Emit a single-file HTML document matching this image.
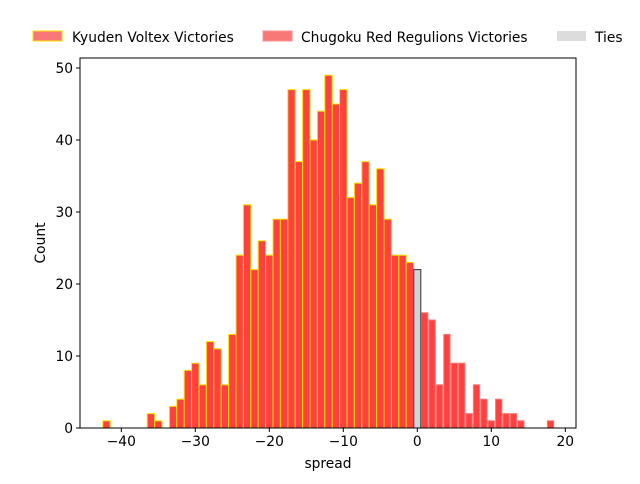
<!DOCTYPE html>
<html><head><meta charset="utf-8"><style>
body{margin:0;background:#fff;font-family:"DejaVu Sans",sans-serif}
svg text{font-family:"DejaVu Sans",sans-serif;font-size:13.8px;fill:#000}
</style></head><body>
<svg id="chart" width="640" height="480" xmlns="http://www.w3.org/2000/svg">
<rect width="640" height="480" fill="#fff"/>
<g id="bars"></g>
<g id="axes"></g>
<g id="legend">
<rect x="33" y="31" width="29" height="10" fill="#f87878" stroke="#ffe000" stroke-width="1"/>
<text x="72" y="42">Kyuden Voltex Victories</text>
<rect x="263" y="31" width="29" height="10" fill="#f87878" stroke="#f89090" stroke-width="1"/>
<text x="301" y="42">Chugoku Red Regulions Victories</text>
<rect x="557" y="31" width="29" height="10" fill="#dcdcdc"/>
<text x="595" y="42">Ties</text>
</g>
</svg>
<script>
const kyudenSpread=[-42,-36,-35,-33,-32,-31,-30,-29,-28,-27,-26,-25,-24,-23,-22,-21,-20,-19,-18,-17,-16,-15,-14,-13,-12,-11,-10,-9,-8,-7,-6,-5,-4,-3,-2,-1];
const kyudenCounts=[1,2,1,3,4,8,9,6,12,11,6,13,24,31,22,26,24,29,29,47,37,47,40,44,49,45,47,32,34,37,31,36,29,24,24,23];
const tiesSpread=[0];
const tiesCounts=[22];
const chugokuSpread=[1,2,3,4,5,6,7,8,9,10,11,12,13,14,18];
const chugokuCounts=[16,15,6,13,9,9,2,6,4,1,4,2,2,1,1];
const xTicks=[-40,-30,-20,-10,0,10,20];
const yTicks=[0,10,20,30,40,50];
const NS="http://www.w3.org/2000/svg";
const L=80,R=576,T=58,B=428;
const xs=v=>417.3+v*7.4;
const ys=v=>B-v*7.2;
const bars=document.getElementById('bars');
function drawSeries(xsArr,cs,fill,stroke,name,w){
  xsArr.forEach((s,i)=>{
    const r=document.createElementNS(NS,'rect');
    const x0=xs(s-0.5)+(1-w)*3.7;
    r.setAttribute('x',x0);r.setAttribute('width',7.4*w);
    r.setAttribute('y',ys(cs[i]));r.setAttribute('height',B-ys(cs[i]));
    r.setAttribute('fill',fill);r.setAttribute('stroke',stroke);r.setAttribute('stroke-width','1');
    
    
    bars.appendChild(r);
  });
}
drawSeries(kyudenSpread,kyudenCounts,'#ff4040','#ffe000','bar-kyuden',1);
drawSeries(chugokuSpread,chugokuCounts,'#ff4040','#ff7878','bar-chugoku',0.85);
drawSeries(tiesSpread,tiesCounts,'#d3d3d3','#333','bar-ties',0.95);
const ax=document.getElementById('axes');
ax.innerHTML='<rect x="80" y="58" width="496" height="370" fill="none" stroke="#000" stroke-width="1"/>';
xTicks.forEach(t=>{
  const x=xs(t);
  const l=document.createElementNS(NS,'line');
  l.setAttribute('x1',x);l.setAttribute('x2',x);l.setAttribute('y1',B);l.setAttribute('y2',B+4);l.setAttribute('stroke','#000');
  
  
  ax.appendChild(l);
  const tx=document.createElementNS(NS,'text');
  tx.setAttribute('x',x);tx.setAttribute('y',B+18);tx.setAttribute('text-anchor','middle');
  tx.textContent=t<0?'\u2212'+(-t):t;
  
  
  ax.appendChild(tx);
});
yTicks.forEach(t=>{
  const y=ys(t);
  const l=document.createElementNS(NS,'line');
  l.setAttribute('x1',L-4);l.setAttribute('x2',L);l.setAttribute('y1',y);l.setAttribute('y2',y);l.setAttribute('stroke','#000');
  
  
  ax.appendChild(l);
  const tx=document.createElementNS(NS,'text');
  tx.setAttribute('x',L-7);tx.setAttribute('y',y+5);tx.setAttribute('text-anchor','end');
  tx.textContent=t;
  
  
  ax.appendChild(tx);
});
const xl=document.createElementNS(NS,'text');
xl.setAttribute('x',328);xl.setAttribute('y',468);xl.setAttribute('text-anchor','middle');xl.textContent='spread';


ax.appendChild(xl);
const yl=document.createElementNS(NS,'text');
yl.setAttribute('transform','translate(45,243) rotate(-90)');yl.setAttribute('text-anchor','middle');yl.textContent='Count';


ax.appendChild(yl);
</script>
</body></html>
